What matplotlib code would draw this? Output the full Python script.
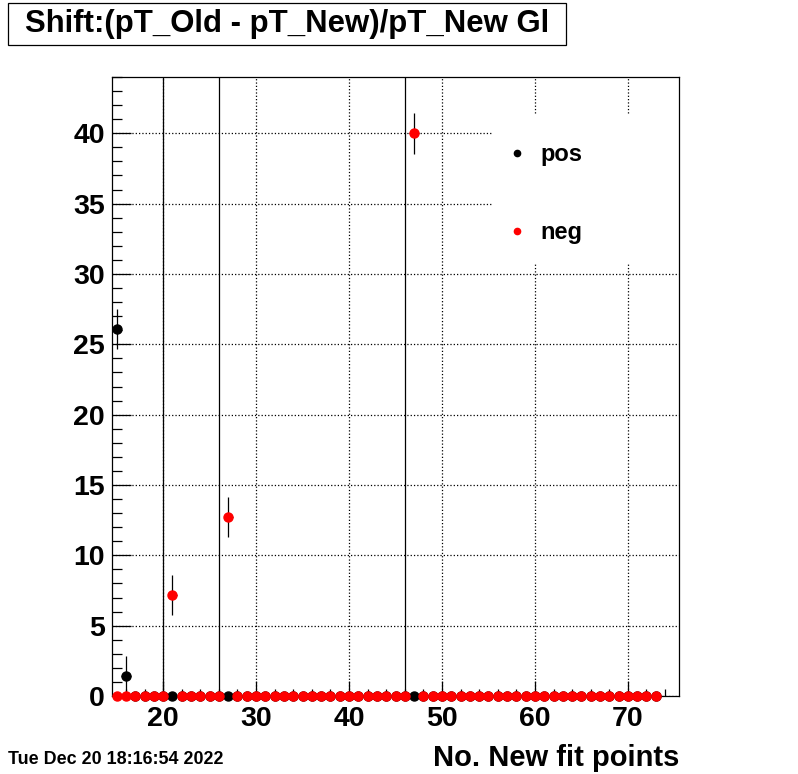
import numpy as np
import matplotlib.pyplot as plt
from matplotlib.patches import Rectangle
from matplotlib.lines import Line2D

plt.rcParams['font.family'] = ['Liberation Sans', 'DejaVu Sans']
plt.rcParams['font.weight'] = 'bold'

# bins: number of new fit points
fit_points = list(range(15, 74))

pos_shift = [26.1, 1.42, 0, 0, 0, 0, 0, 0, 0, 0,
             0, 0, 0, 0, 0, 0, 0, 0, 0, 0,
             0, 0, 0, 0, 0, 0, 0, 0, 0, 0,
             0, 0, 0, 0, 0, 0, 0, 0, 0, 0,
             0, 0, 0, 0, 0, 0, 0, 0, 0, 0,
             0, 0, 0, 0, 0, 0, 0, 0, 0]
pos_err = [1.42, 1.42, 0, 0, 0, 0, 0, 0, 0, 0,
           0, 0, 0, 0, 0, 0, 0, 0, 0, 0,
           0, 0, 0, 0, 0, 0, 0, 0, 0, 0,
           0, 0, 0, 0, 0, 0, 0, 0, 0, 0,
           0, 0, 0, 0, 0, 0, 0, 0, 0, 0,
           0, 0, 0, 0, 0, 0, 0, 0, 0]

neg_shift = [0, 0, 0, 0, 0, 0, 7.17, 0, 0, 0,
             0, 0, 12.72, 0, 0, 0, 0, 0, 0, 0,
             0, 0, 0, 0, 0, 0, 0, 0, 0, 0,
             0, 0, 40.0, 0, 0, 0, 0, 0, 0, 0,
             0, 0, 0, 0, 0, 0, 0, 0, 0, 0,
             0, 0, 0, 0, 0, 0, 0, 0, 0]
neg_err = [0, 0, 0, 0, 0, 0, 1.42, 0, 0, 0,
           0, 0, 1.42, 0, 0, 0, 0, 0, 0, 0,
           0, 0, 0, 0, 0, 0, 0, 0, 0, 0,
           0, 0, 1.45, 0, 0, 0, 0, 0, 0, 0,
           0, 0, 0, 0, 0, 0, 0, 0, 0, 0,
           0, 0, 0, 0, 0, 0, 0, 0, 0]

cut_lines = [20, 26, 46]

x = np.array(fit_points)
pos_xerr = np.where(np.array(pos_err) > 0, 0.5, 0.0)
neg_xerr = np.where(np.array(neg_err) > 0, 0.5, 0.0)

fig = plt.figure(figsize=(7.98, 7.74), dpi=100)
ax = fig.add_axes([112 / 798, 78 / 774, 567 / 798, 619 / 774])

ax.set_xlim(14.5, 75.5)
ax.set_ylim(0, 44)

ax.set_axisbelow(True)
ax.grid(True, which='major', linestyle=':', color='black', linewidth=0.9)

for c in cut_lines:
    ax.axvline(c, color='black', linewidth=0.9, zorder=1.2)

ax.errorbar(x, pos_shift, xerr=pos_xerr, yerr=pos_err, fmt='o', color='black',
            ms=6.5, elinewidth=0.9, capsize=0, clip_on=False, zorder=3)
ax.errorbar(x, neg_shift, xerr=neg_xerr, yerr=neg_err, fmt='o', color='red',
            ecolor='black', ms=6.5, elinewidth=0.9, capsize=0, clip_on=False, zorder=4)

# white legend area hiding the grid
ax.add_patch(Rectangle((0.672, 0.70), 0.328, 0.24, transform=ax.transAxes,
                       facecolor='white', edgecolor='none', zorder=1))

handles = [Line2D([], [], linestyle='none', marker='o', color='black', ms=4.5),
           Line2D([], [], linestyle='none', marker='o', color='red', ms=4.5)]
ax.legend(handles, ['pos', 'neg'], loc='upper left', frameon=False,
          bbox_to_anchor=(505 / 798, 1 - 143 / 774), bbox_transform=fig.transFigure,
          borderpad=0, borderaxespad=0, handlelength=1.0, handletextpad=0.5,
          labelspacing=2.35, prop={'size': 17, 'weight': 'bold'})

ax.set_xticks([20, 30, 40, 50, 60, 70])
ax.set_xticks(np.arange(16, 76, 2), minor=True)
ax.set_yticks(np.arange(0, 41, 5))
ax.set_yticks(np.arange(0, 45, 1), minor=True)
ax.tick_params(axis='both', which='both', direction='in', top=False, right=False,
               labelsize=20.5, width=0.9)
ax.tick_params(axis='x', which='major', length=11, pad=7)
ax.tick_params(axis='x', which='minor', length=5)
ax.tick_params(axis='y', which='major', length=14, pad=5)
ax.tick_params(axis='y', which='minor', length=7)
for lab in ax.get_xticklabels() + ax.get_yticklabels():
    lab.set_fontweight('bold')
for s in ax.spines.values():
    s.set_linewidth(0.9)

ax.set_xlabel('No. New fit points', fontsize=21, fontweight='bold')
ax.xaxis.set_label_coords(1.0, -0.078)
ax.xaxis.label.set_horizontalalignment('right')

# title box
fig.patches.append(Rectangle((8 / 798, 1 - 45 / 774), 558 / 798, 42 / 774,
                             transform=fig.transFigure, facecolor='white',
                             edgecolor='black', linewidth=0.9))
fig.text(287 / 798, 1 - 24 / 774, 'Shift:(pT_Old - pT_New)/pT_New Gl',
         ha='center', va='center', fontsize=22.4, fontweight='bold')

fig.text(8 / 798, 1 - 760 / 774, 'Tue Dec 20 18:16:54 2022', ha='left', va='center',
         fontsize=12.9, fontweight='bold')

fig.savefig('out.png', dpi=100)
